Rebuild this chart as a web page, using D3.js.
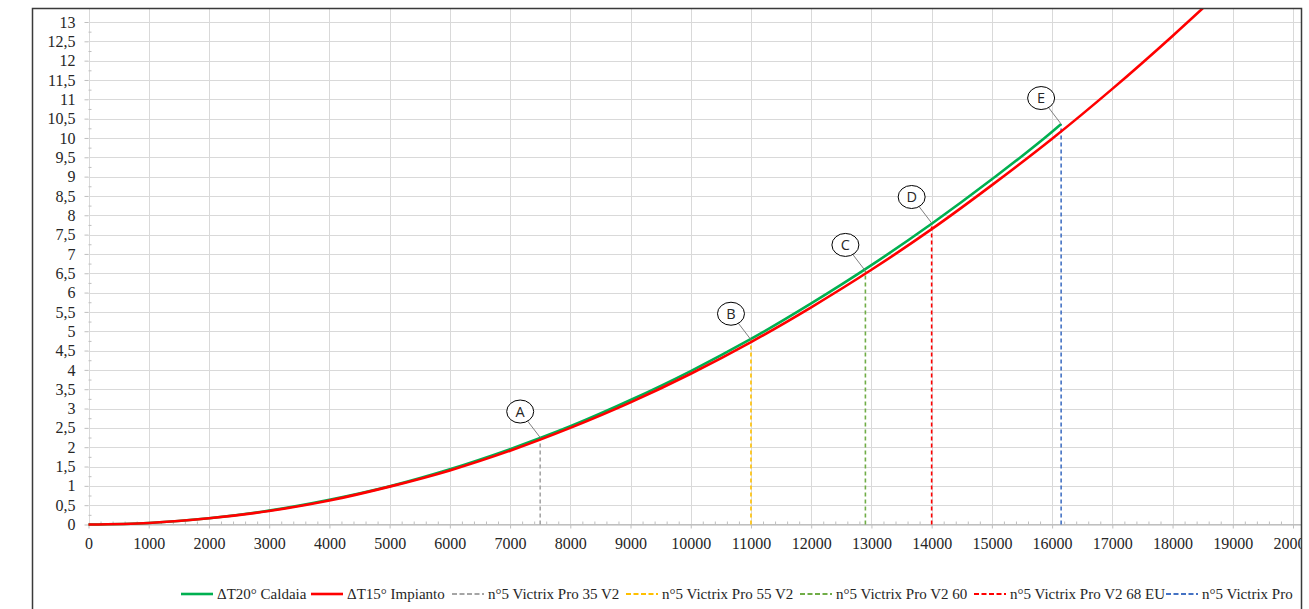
<!doctype html>
<html>
<head>
<meta charset="utf-8">
<script src="https://cdn.jsdelivr.net/npm/d3@7"></script>
<style>
    body { margin: 0; background: #fff; }
    .axis text, .leg text {
        font-family: "Liberation Serif", "Times New Roman", serif;
        font-size: 16px;
        fill: #262626;
    }
    .leg text { font-size: 15px; }
    .axis path { display: none; }
    .axis line { stroke: #bfbfbf; }
    .grid line { stroke: #d9d9d9; stroke-width: 1; }
    .ytitle { font-family: "Open Sans", sans-serif; font-size: 17.5px; fill: #262626; }
    .mark text { font-family: "Open Sans", sans-serif; font-size: 14.5px; fill: #262626; }
</style>
</head>
<body>
<svg width="1309" height="609"></svg>
<script>
// flow [l/h] and head losses [kPa]
var flowCaldaia = [0, 1000, 2000, 3000, 4000, 5000, 6000, 7000, 8000, 9000, 10000, 11000, 12000, 13000, 14000, 15000, 16000, 16150];
var caldaia     = [0, 0.04, 0.16, 0.36, 0.64, 0.99, 1.43, 1.95, 2.54, 3.22, 3.97, 4.80, 5.72, 6.71, 7.78, 8.93, 10.16, 10.36];
var flowImpianto = [0, 1000, 2000, 3000, 4000, 5000, 6000, 7000, 8000, 9000, 10000, 11000, 12000, 13000, 14000, 15000, 16000, 17000, 18000, 18700];
var impianto     = [0, 0.04, 0.16, 0.35, 0.62, 0.98, 1.40, 1.91, 2.50, 3.16, 3.90, 4.72, 5.62, 6.59, 7.64, 8.78, 9.98, 11.27, 12.64, 13.64];

var models     = ["n°5 Victrix Pro 35 V2", "n°5 Victrix Pro 55 V2", "n°5 Victrix Pro V2 60", "n°5 Victrix Pro V2 68 EU", "n°5 Victrix Pro"];
var modelFlow  = [7500, 11000, 12900, 14000, 16150];
var modelHead  = [2.25, 4.78, 6.56, 7.80, 10.36];
var markLetters = ["A", "B", "C", "D", "E"];

var seriesNames = ["ΔT20° Caldaia", "ΔT15° Impianto"];
var xTicks = d3.range(0, 20001, 1000);
var yTicks = d3.range(0, 13.01, 0.5);

var modelColors = ["#a5a5a5", "#ffc000", "#70ad47", "#ff0000", "#4472c4"];
var legendX = [181, 311, 452, 626, 800, 974, 1166];

var svg = d3.select("svg");
var L = 32, T = 8, R = 1302, B = 609;

svg.append("clipPath").attr("id", "frame")
   .append("rect").attr("x", L).attr("y", T).attr("width", R - L).attr("height", B - T);

var g = svg.append("g").attr("clip-path", "url(#frame)");

var x = d3.scaleLinear().domain([0, 20000]).range([88.5, 1293]);
var y = d3.scaleLinear().domain([0, 13]).range([524.5, 22]);

// grid
var grid = g.append("g").attr("class", "grid");
grid.selectAll(".h").data(yTicks).enter().append("line")
    .attr("x1", x(0)).attr("x2", R)
    .attr("y1", function(d) { return Math.round(y(d)) + 0.5; })
    .attr("y2", function(d) { return Math.round(y(d)) + 0.5; });
grid.selectAll(".v").data(xTicks).enter().append("line")
    .attr("y1", T).attr("y2", y(0))
    .attr("x1", function(d) { return Math.round(x(d)) + 0.5; })
    .attr("x2", function(d) { return Math.round(x(d)) + 0.5; });

// axes
var fmt = function(d) { return String(d).replace(".", ","); };
g.append("g").attr("class", "axis")
 .attr("transform", "translate(" + x(0) + ",0)")
 .call(d3.axisLeft(y).tickValues(yTicks).tickSize(4).tickSizeOuter(0).tickPadding(9).tickFormat(fmt));
g.append("g").attr("class", "axis")
 .attr("transform", "translate(" + x(0) + ",0)")
 .call(d3.axisRight(y).tickValues(d3.range(0.25, 13, 0.5)).tickSize(3).tickSizeOuter(0).tickFormat(""));

g.append("line").attr("x1", x(0)).attr("x2", R).attr("y1", y(0)).attr("y2", y(0))
 .attr("stroke", "#bfbfbf");
g.append("g").attr("class", "axis")
 .attr("transform", "translate(0," + y(0) + ")")
 .call(d3.axisBottom(x).tickValues(xTicks).tickSize(4).tickSizeOuter(0).tickPadding(9).tickFormat(d3.format("d")));
g.append("g").attr("class", "axis")
 .attr("transform", "translate(0," + y(0) + ")")
 .call(d3.axisTop(x).tickValues(d3.range(200, 20600, 200).filter(function(d) { return d % 1000; }))
        .tickSize(3).tickSizeOuter(0).tickFormat(""));

// model verticals
g.selectAll(".drop").data(modelFlow).enter().append("line")
 .attr("x1", function(d) { return x(d); }).attr("x2", function(d) { return x(d); })
 .attr("y1", y(0)).attr("y2", function(d, i) { return y(modelHead[i]); })
 .attr("stroke", function(d, i) { return modelColors[i]; })
 .attr("stroke-width", 1.6).attr("stroke-dasharray", "4,3");

// curves
var line = d3.line().curve(d3.curveMonotoneX);
g.append("path")
 .attr("d", line(flowCaldaia.map(function(f, i) { return [x(f), y(caldaia[i])]; })))
 .attr("fill", "none").attr("stroke", "#00b050").attr("stroke-width", 2.6);
g.append("path")
 .attr("d", line(flowImpianto.map(function(f, i) { return [x(f), y(impianto[i])]; })))
 .attr("fill", "none").attr("stroke", "#ff0000").attr("stroke-width", 2.6);

// labels A..E
var mk = g.selectAll(".mark").data(modelFlow).enter().append("g").attr("class", "mark")
  .attr("transform", function(d, i) { return "translate(" + x(d) + "," + y(modelHead[i]) + ")"; });
mk.append("line").attr("x1", -13).attr("y1", -17).attr("x2", 0).attr("y2", 0)
  .attr("stroke", "#7f7f7f").attr("stroke-width", 1);
mk.append("ellipse").attr("cx", -20).attr("cy", -26).attr("rx", 13.5).attr("ry", 11.5)
  .attr("fill", "#fff").attr("stroke", "#000").attr("stroke-width", 1);
mk.append("text").attr("x", -20).attr("y", -26).attr("dy", "0.36em")
  .attr("text-anchor", "middle").text(function(d, i) { return markLetters[i]; });

// y title
g.append("text").attr("class", "ytitle")
 .attr("transform", "translate(16,288) rotate(-90)")
 .attr("text-anchor", "middle").attr("dy", "0.35em")
 .text("Head Losses [kPa]");

// legend
var legItems = [
  { name: seriesNames[0], color: "#00b050", dash: null, w: 2.6 },
  { name: seriesNames[1], color: "#ff0000", dash: null, w: 2.6 }
].concat(models.map(function(m, i) { return { name: m, color: modelColors[i], dash: "5,2.5", w: 1.8 }; }));

var leg = g.selectAll(".leg").data(legItems).enter().append("g").attr("class", "leg")
  .attr("transform", function(d, i) { return "translate(" + legendX[i] + ",594)"; });
leg.append("line").attr("x1", 0).attr("x2", 32).attr("y1", 0).attr("y2", 0)
  .attr("stroke", function(d) { return d.color; })
  .attr("stroke-width", function(d) { return d.w; })
  .attr("stroke-dasharray", function(d) { return d.dash; });
leg.append("text").attr("x", 36).attr("dy", "0.35em").text(function(d) { return d.name; });

// frame
svg.append("path")
   .attr("d", "M" + (L + 0.5) + "," + B + "V" + (T + 0.5) + "H" + (R - 0.5) + "V" + B)
   .attr("fill", "none").attr("stroke", "#3a3a3a").attr("stroke-width", 1.5);
</script>
</body>
</html>
